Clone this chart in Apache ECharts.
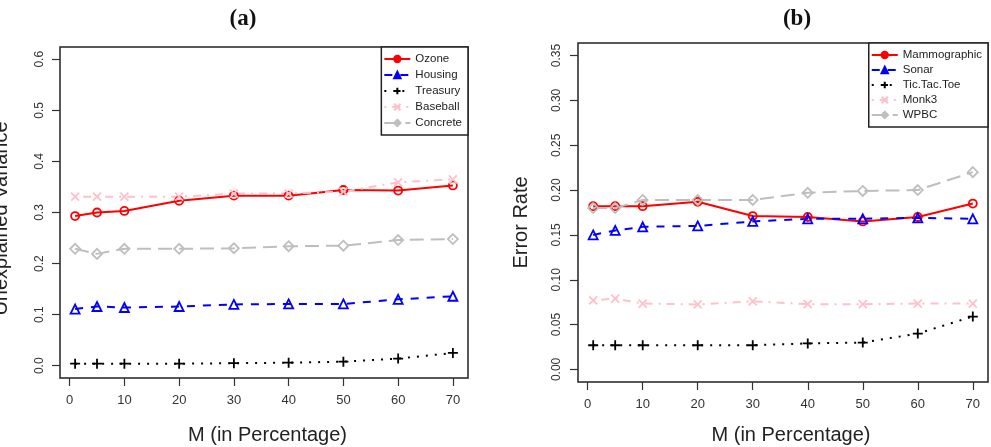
<!DOCTYPE html>
<html>
<head>
<meta charset="utf-8">
<script src="https://cdn.jsdelivr.net/npm/echarts@6/dist/echarts.min.js"></script>
<style>
  html, body { margin: 0; padding: 0; background: #fff; }
  #chart { width: 991px; height: 447px; }
</style>
</head>
<body>
<div id="chart"></div>
<script>
  // x positions (M in percentage)
  var mValues = [1, 5, 10, 20, 30, 40, 50, 60, 70]
  var xTicks = [0, 10, 20, 30, 40, 50, 60, 70]
  var yTicksA = [0, 0.1, 0.2, 0.3, 0.4, 0.5, 0.6]
  var yTicksB = [0, 0.05, 0.1, 0.15, 0.2, 0.25, 0.3, 0.35]

  // panel (a): unexplained variance
  var ozone = [0.293, 0.300, 0.303, 0.323, 0.333, 0.333, 0.344, 0.343, 0.353]
  var housing = [0.111, 0.116, 0.114, 0.116, 0.120, 0.121, 0.121, 0.130, 0.136]
  var treasury = [0.004, 0.004, 0.004, 0.004, 0.005, 0.006, 0.008, 0.014, 0.025]
  var baseball = [0.331, 0.331, 0.331, 0.331, 0.337, 0.337, 0.341, 0.359, 0.365]
  var concrete = [0.229, 0.219, 0.229, 0.229, 0.230, 0.234, 0.235, 0.246, 0.248]

  // panel (b): error rate
  var mammographic = [0.182, 0.182, 0.182, 0.187, 0.171, 0.170, 0.165, 0.170, 0.185]
  var sonar = [0.150, 0.155, 0.159, 0.160, 0.165, 0.168, 0.168, 0.169, 0.168]
  var ticTacToe = [0.027, 0.027, 0.027, 0.027, 0.027, 0.029, 0.030, 0.040, 0.059]
  var monk3 = [0.077, 0.079, 0.0735, 0.0725, 0.076, 0.0728, 0.0728, 0.0735, 0.0735]
  var wpbc = [0.180, 0.180, 0.189, 0.189, 0.189, 0.197, 0.199, 0.200, 0.220]

  var PLUS = 'path://M5,0L5,10M0,5L10,5'
  var CROSS = 'path://M0,0L10,10M10,0L0,10'
  var SANS = '"Liberation Sans", Arial, sans-serif'
  var RED = '#ff0000'
  var BLUE = '#0000ff'
  var BLACK = '#000000'
  var PINK = '#ffc0cb'
  var GREY = '#bebebe'

  function line (name, values, color, symbol, size, dash, width, idx) {
    return {
      name: name,
      type: 'line',
      xAxisIndex: idx,
      yAxisIndex: idx,
      data: values.map(function (v, i) { return [mValues[i], v] }),
      symbol: symbol,
      symbolSize: size,
      symbolKeepAspect: true,
      lineStyle: { color: color, width: width, type: dash },
      itemStyle: { color: 'rgba(0,0,0,0)', borderColor: color, borderWidth: 1.8 },
      emphasis: { disabled: true },
      animation: false
    }
  }

  function xAxis (idx, nameGap, shift) {
    return {
      type: 'value',
      gridIndex: idx,
      min: -1.76,
      max: 72.76,
      name: 'M (in Percentage)',
      nameLocation: 'middle',
      nameGap: nameGap,
      nameTextStyle: { fontFamily: SANS, fontSize: 20, color: '#222', padding: [0, 0, 0, shift] },
      axisLine: { show: false, onZero: false },
      splitLine: { show: false },
      axisTick: { show: true, inside: false, length: 8, customValues: xTicks, lineStyle: { color: '#333', width: 1.2 } },
      axisLabel: { customValues: xTicks, margin: 16, fontFamily: SANS, fontSize: 13, color: '#333' }
    }
  }

  function yAxis (idx, name, min, max, ticks, digits, nameGap, margin, shift) {
    return {
      type: 'value',
      gridIndex: idx,
      min: min,
      max: max,
      name: name,
      nameLocation: 'middle',
      nameGap: nameGap,
      nameTextStyle: { fontFamily: SANS, fontSize: 20, color: '#222', padding: [0, shift, 0, 0] },
      axisLine: { show: false, onZero: false },
      splitLine: { show: false },
      axisTick: { show: true, inside: false, length: 8, customValues: ticks, lineStyle: { color: '#333', width: 1.2 } },
      axisLabel: {
        customValues: ticks,
        rotate: 90,
        margin: margin,
        fontFamily: SANS,
        fontSize: 12,
        color: '#333',
        formatter: function (v) { return v.toFixed(digits) }
      }
    }
  }

  function legend (names, colors, right, top, gap) {
    return {
      data: names.map(function (n, i) {
        return { name: n, itemStyle: { color: colors[i] } }
      }),
      orient: 'vertical',
      right: right,
      top: top,
      itemWidth: 26,
      itemHeight: 8,
      itemGap: gap,
      padding: [6, 6, 6, 2],
      borderColor: '#222',
      borderWidth: 1.5,
      backgroundColor: '#fff',
      textStyle: { fontFamily: SANS, fontSize: 11.5, color: '#222' },
      selectedMode: false
    }
  }

  var colors = [RED, BLUE, BLACK, PINK, GREY]

  var chart = echarts.init(document.getElementById('chart'), null, { renderer: 'canvas' })
  chart.setOption({
    animation: false,
    backgroundColor: '#fff',
    title: [
      { text: '(a)', left: 238, top: 3, textAlign: 'center',
        textStyle: { fontFamily: '"Liberation Serif", serif', fontWeight: 'bold', fontSize: 23, color: '#111' } },
      { text: '(b)', left: 792, top: 3, textAlign: 'center',
        textStyle: { fontFamily: '"Liberation Serif", serif', fontWeight: 'bold', fontSize: 23, color: '#111' } }
    ],
    grid: [
      { left: 60, top: 47, width: 408, height: 331, outerBoundsMode: 'none', containLabel: false,
        show: true, borderColor: '#222', borderWidth: 1.5, backgroundColor: 'transparent' },
      { left: 578, top: 43, width: 410, height: 339, outerBoundsMode: 'none', containLabel: false,
        show: true, borderColor: '#222', borderWidth: 1.5, backgroundColor: 'transparent' }
    ],
    legend: [
      legend(['Ozone', 'Housing', 'Treasury', 'Baseball', 'Concrete'], colors, 991 - 468, 47, 4),
      legend(['Mammographic', 'Sonar', 'Tic.Tac.Toe', 'Monk3', 'WPBC'], colors, 3, 43, 3)
    ],
    xAxis: [xAxis(0, 47, 7), xAxis(1, 43, 16)],
    yAxis: [
      yAxis(0, 'Unexplained Variance', -0.024, 0.624, yTicksA, 1, 49, 14, 12),
      yAxis(1, 'Error Rate', -0.014, 0.364, yTicksB, 2, 47, 15, 20)
    ],
    series: [
      line('Ozone', ozone, RED, 'circle', 8, 'solid', 2, 0),
      line('Housing', housing, BLUE, 'triangle', 9, [8, 8], 2, 0),
      line('Treasury', treasury, BLACK, PLUS, 10, [2, 7], 2, 0),
      line('Baseball', baseball, PINK, CROSS, 8, [2, 6, 8, 6], 2, 0),
      line('Concrete', concrete, GREY, 'diamond', 10, [14, 7], 2, 0),
      line('Mammographic', mammographic, RED, 'circle', 8, 'solid', 2, 1),
      line('Sonar', sonar, BLUE, 'triangle', 9, [8, 8], 2, 1),
      line('Tic.Tac.Toe', ticTacToe, BLACK, PLUS, 10, [2, 7], 2, 1),
      line('Monk3', monk3, PINK, CROSS, 8, [2, 6, 8, 6], 2, 1),
      line('WPBC', wpbc, GREY, 'diamond', 10, [14, 7], 2, 1)
    ]
  })
</script>
</body>
</html>
